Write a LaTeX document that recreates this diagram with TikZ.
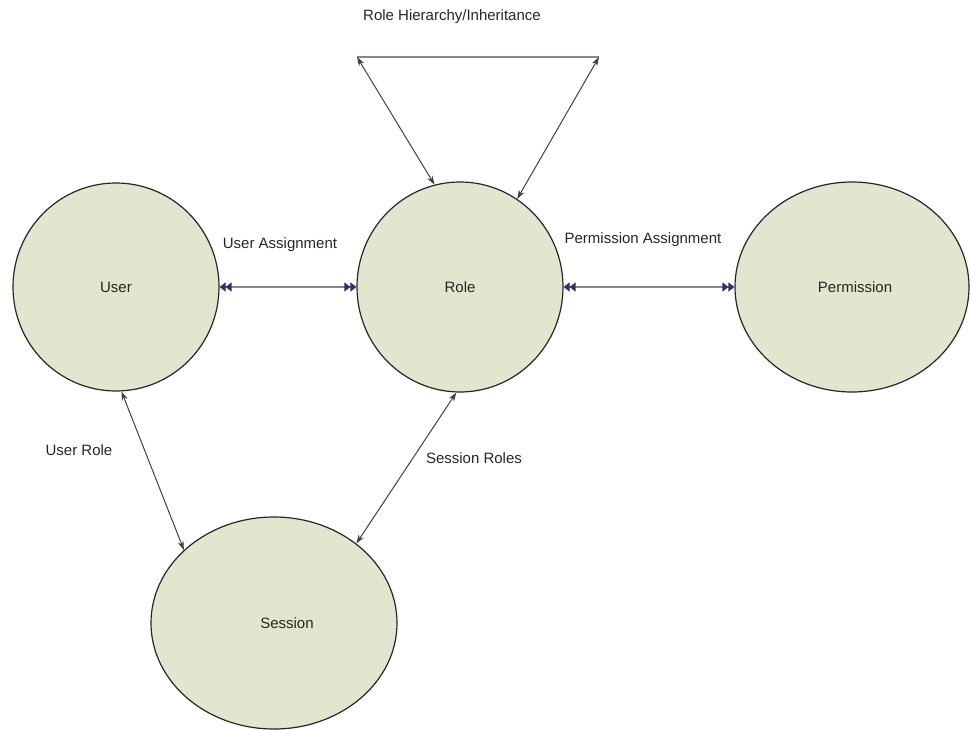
\documentclass[tikz,border=0pt]{standalone}
\usepackage{fontspec}
\setmainfont{Liberation Sans}
\usetikzlibrary{shapes.geometric,arrows.meta}
\definecolor{nodefill}{RGB}{226,230,207}
\definecolor{navytip}{RGB}{48,48,110}
\definecolor{hline}{RGB}{135,135,145}
\begin{document}
\begin{tikzpicture}[x=1pt,y=-1pt,
  every node/.style={font=\fontsize{15}{18}\selectfont},
  entity/.style={ellipse,draw=black!85,line width=1.2pt,fill=nodefill,inner sep=0pt},
  thinlink/.style={draw=black!75,line width=1pt,{Stealth[length=9pt,width=6pt]}-{Stealth[length=9pt,width=6pt]}},
  dbllink/.style={draw=hline,line width=2.4pt,
    {Triangle[length=6pt,width=9pt,color=navytip]Triangle[length=6pt,width=9pt,color=navytip]}-{Triangle[length=6pt,width=9pt,color=navytip]Triangle[length=6pt,width=9pt,color=navytip]}},
  lbl/.style={inner sep=0pt,text=black!85}]
\useasboundingbox (0,0) rectangle (971,730);
\node[entity,minimum width=206pt,minimum height=208pt] (user) at (116,287) {};
\node[lbl] at (116,287) {User};
\node[entity,minimum width=206pt,minimum height=210pt] (role) at (460,287) {};
\node[lbl] at (460,287) {Role};
\node[entity,minimum width=234pt,minimum height=210pt] (perm) at (852,287) {};
\node[lbl] at (855,287) {Permission};
\node[entity,minimum width=246pt,minimum height=212pt] (sess) at (274,623) {};
\node[lbl] at (287,623) {Session};
\coordinate (tl) at (357,57);
\coordinate (tr) at (599,57);
\draw[draw=hline,line width=2.2pt] (tl) -- (tr);
\draw[thinlink] (tl) -- (role.104);
\draw[thinlink] (tr) -- (role.57);
\draw[dbllink] (user.east) -- (role.west);
\draw[dbllink] (role.east) -- (perm.west);
\draw[thinlink] (user.-87) -- (sess.141);
\draw[thinlink] (role.-92) -- (sess.44);
\node[lbl] (t1) at (452,17) {Role Hierarchy/Inheritance};
\node[lbl] (t2) at (280,245) {User Assignment};
\node[lbl] (t3) at (643,240) {Permission Assignment};
\node[lbl] (t4) at (79,450) {User Role};
\node[lbl] (t5) at (474,458) {Session Roles};
\end{tikzpicture}
\end{document}
